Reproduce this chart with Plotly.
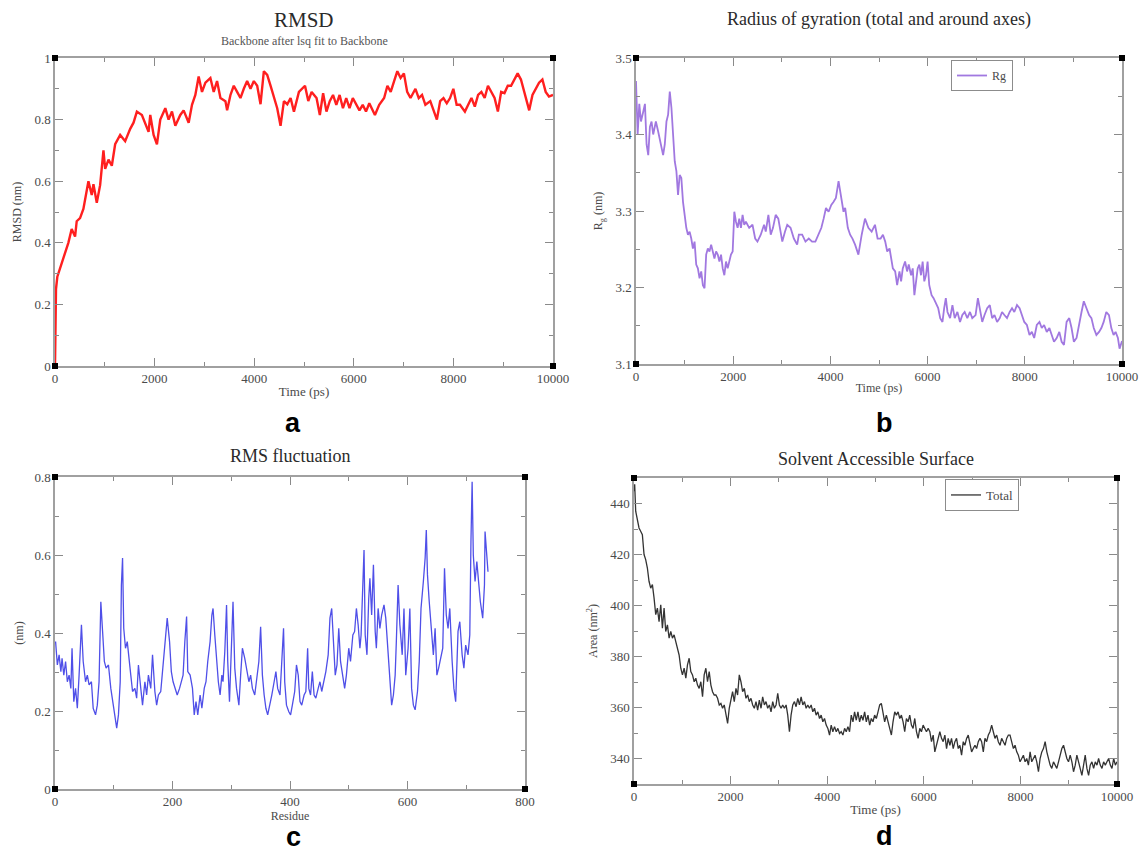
import plotly.graph_objects as go

# ---------------- data ----------------
# (a) RMSD, backbone after lsq fit to backbone
rmsd_time_ps = [0, 20, 47, 100, 168, 201, 268, 335, 403, 436, 503, 570, 637, 671, 738, 772, 839, 906,
                973, 1007, 1074, 1141, 1208, 1309, 1409, 1510, 1577, 1644, 1745, 1812, 1879, 1913, 1980,
                2047, 2114, 2215, 2281, 2349, 2416, 2516, 2583, 2684, 2751, 2818, 2885, 2952, 3020, 3120,
                3187, 3254, 3322, 3422, 3456, 3523, 3590, 3657, 3724, 3791, 3858, 3926, 3993, 4060, 4127,
                4194, 4261, 4328, 4395, 4462, 4529, 4597, 4664, 4731, 4798, 4898, 5020, 5086, 5153, 5252,
                5318, 5384, 5451, 5517, 5583, 5649, 5715, 5782, 5848, 5914, 5980, 6046, 6113, 6179, 6245,
                6311, 6377, 6424, 6510, 6609, 6675, 6741, 6808, 6874, 6940, 7006, 7072, 7139, 7238, 7304,
                7370, 7437, 7536, 7602, 7668, 7734, 7801, 7867, 7933, 7999, 8065, 8132, 8231, 8297, 8363,
                8430, 8496, 8562, 8628, 8694, 8761, 8827, 8893, 8959, 9025, 9092, 9158, 9224, 9290, 9356,
                9423, 9522, 9588, 9654, 9720, 9787, 9853, 9919, 10000]
rmsd_nm = [0.0, 0.25, 0.29, 0.315, 0.35, 0.37, 0.40, 0.445, 0.42, 0.47, 0.48, 0.51, 0.575, 0.60, 0.555,
           0.59, 0.53, 0.587, 0.70, 0.64, 0.67, 0.65, 0.72, 0.75, 0.73, 0.77, 0.79, 0.826, 0.815, 0.79,
           0.76, 0.815, 0.75, 0.72, 0.80, 0.837, 0.80, 0.826, 0.78, 0.815, 0.83, 0.79, 0.848, 0.88, 0.94,
           0.89, 0.92, 0.935, 0.89, 0.925, 0.87, 0.86, 0.83, 0.88, 0.91, 0.89, 0.87, 0.90, 0.925, 0.90,
           0.925, 0.91, 0.85, 0.957, 0.945, 0.91, 0.87, 0.837, 0.78, 0.86, 0.85, 0.87, 0.826, 0.89, 0.91,
           0.86, 0.89, 0.87, 0.815, 0.886, 0.826, 0.86, 0.88, 0.848, 0.88, 0.837, 0.87, 0.837, 0.87,
           0.848, 0.83, 0.848, 0.826, 0.853, 0.83, 0.815, 0.848, 0.87, 0.91, 0.89, 0.924, 0.957, 0.935,
           0.95, 0.89, 0.87, 0.90, 0.87, 0.88, 0.848, 0.86, 0.83, 0.80, 0.86, 0.87, 0.853, 0.87, 0.90,
           0.848, 0.848, 0.826, 0.848, 0.87, 0.842, 0.88, 0.89, 0.87, 0.91, 0.89, 0.87, 0.826, 0.89,
           0.886, 0.91, 0.91, 0.93, 0.95, 0.93, 0.89, 0.83, 0.88, 0.90, 0.92, 0.93, 0.89, 0.875, 0.88]

# (b) Radius of gyration
rg_time_ps = [0, 14, 34, 68, 102, 150, 184, 218, 252, 286, 320, 354, 409, 456, 504, 558, 592, 627, 661,
              695, 729, 763, 797, 831, 865, 899, 933, 967, 1001, 1035, 1069, 1103, 1137, 1171, 1205, 1239,
              1273, 1308, 1342, 1376, 1410, 1444, 1478, 1512, 1546, 1580, 1614, 1648, 1682, 1716, 1750,
              1784, 1818, 1852, 1886, 1920, 1954, 1989, 2023, 2057, 2091, 2125, 2159, 2193, 2227, 2261,
              2329, 2397, 2452, 2499, 2567, 2635, 2670, 2724, 2772, 2819, 2874, 2928, 2976, 3010, 3065,
              3112, 3180, 3248, 3316, 3351, 3419, 3487, 3555, 3623, 3691, 3759, 3814, 3861, 3909, 3963,
              4018, 4066, 4113, 4168, 4215, 4270, 4304, 4358, 4406, 4454, 4508, 4576, 4644, 4712, 4781,
              4849, 4917, 4971, 5033, 5081, 5128, 5169, 5217, 5251, 5285, 5333, 5373, 5421, 5455, 5489,
              5537, 5578, 5612, 5660, 5694, 5728, 5762, 5796, 5830, 5864, 5898, 5932, 5966, 6000, 6034,
              6082, 6123, 6170, 6218, 6259, 6306, 6341, 6375, 6409, 6463, 6511, 6558, 6613, 6667, 6715,
              6763, 6817, 6872, 6919, 6987, 7035, 7076, 7124, 7171, 7226, 7280, 7328, 7376, 7430, 7485,
              7532, 7580, 7634, 7689, 7737, 7784, 7839, 7893, 7941, 7989, 8043, 8097, 8145, 8193, 8247,
              8302, 8349, 8397, 8452, 8506, 8554, 8601, 8656, 8710, 8758, 8806, 8860, 8915, 8962, 9010,
              9065, 9119, 9167, 9214, 9269, 9323, 9371, 9419, 9473, 9528, 9575, 9623, 9677, 9732, 9780,
              9827, 9868, 9916, 9950, 10000]
rg_nm = [3.47, 3.45, 3.40, 3.44, 3.417, 3.43, 3.44, 3.387, 3.373, 3.41, 3.417, 3.40, 3.417, 3.404, 3.39,
         3.373, 3.387, 3.417, 3.426, 3.456, 3.435, 3.395, 3.365, 3.352, 3.321, 3.347, 3.343, 3.312, 3.295,
         3.278, 3.269, 3.273, 3.264, 3.251, 3.26, 3.23, 3.225, 3.212, 3.221, 3.203, 3.199, 3.243, 3.251,
         3.247, 3.256, 3.247, 3.238, 3.247, 3.243, 3.234, 3.243, 3.225, 3.216, 3.234, 3.225, 3.234, 3.243,
         3.247, 3.299, 3.286, 3.278, 3.29, 3.278, 3.295, 3.282, 3.286, 3.278, 3.282, 3.264, 3.26, 3.269,
         3.282, 3.273, 3.295, 3.269, 3.278, 3.295, 3.29, 3.273, 3.26, 3.273, 3.282, 3.278, 3.264, 3.256,
         3.269, 3.269, 3.26, 3.264, 3.26, 3.26, 3.269, 3.278, 3.29, 3.304, 3.299, 3.308, 3.312, 3.317,
         3.339, 3.321, 3.299, 3.304, 3.278, 3.269, 3.264, 3.256, 3.243, 3.269, 3.29, 3.278, 3.273, 3.282,
         3.264, 3.264, 3.269, 3.26, 3.247, 3.251, 3.238, 3.225, 3.221, 3.203, 3.221, 3.208, 3.225, 3.234,
         3.221, 3.23, 3.216, 3.225, 3.19, 3.208, 3.225, 3.23, 3.216, 3.234, 3.208, 3.216, 3.234, 3.203,
         3.19, 3.186, 3.179, 3.173, 3.16, 3.155, 3.173, 3.186, 3.168, 3.16, 3.177, 3.16, 3.168, 3.155,
         3.164, 3.168, 3.16, 3.168, 3.16, 3.164, 3.186, 3.173, 3.155, 3.164, 3.173, 3.177, 3.16, 3.164,
         3.155, 3.16, 3.168, 3.164, 3.16, 3.168, 3.173, 3.168, 3.177, 3.173, 3.164, 3.155, 3.151, 3.138,
         3.142, 3.134, 3.151, 3.155, 3.147, 3.151, 3.142, 3.147, 3.138, 3.129, 3.134, 3.142, 3.129, 3.125,
         3.155, 3.16, 3.147, 3.129, 3.134, 3.155, 3.168, 3.182, 3.173, 3.164, 3.16, 3.147, 3.138, 3.142,
         3.147, 3.155, 3.168, 3.164, 3.147, 3.138, 3.142, 3.134, 3.12, 3.13]

# (c) RMS fluctuation per residue
rmsf_residue = [1, 4, 7, 10, 12, 15, 18, 21, 24, 27, 29, 32, 35, 38, 41, 45, 48, 52, 55, 58, 62, 65, 69,
                72, 75, 78, 81, 84, 87, 91, 95, 98, 102, 105, 108, 111, 113, 115, 117, 120, 123, 126, 129,
                132, 136, 139, 142, 146, 149, 153, 156, 159, 163, 166, 170, 173, 176, 180, 183, 187, 191,
                195, 198, 201, 205, 208, 212, 215, 218, 221, 224, 226, 230, 234, 237, 240, 243, 247, 250,
                254, 257, 260, 264, 267, 269, 272, 275, 278, 281, 284, 286, 289, 292, 294, 297, 299, 301,
                303, 306, 309, 313, 316, 319, 323, 326, 330, 333, 336, 340, 343, 347, 350, 353, 356, 359,
                362, 366, 369, 373, 376, 379, 383, 386, 389, 391, 394, 398, 401, 404, 408, 411, 414, 417,
                420, 424, 427, 430, 432, 435, 438, 441, 444, 448, 451, 454, 458, 461, 465, 468, 471, 474,
                477, 480, 483, 486, 490, 493, 496, 500, 503, 507, 510, 513, 516, 519, 521, 524, 526, 528,
                531, 534, 536, 539, 542, 545, 547, 550, 553, 556, 560, 563, 567, 570, 573, 576, 579, 581,
                584, 587, 591, 594, 597, 601, 604, 607, 610, 613, 617, 620, 623, 627, 630, 632, 634, 637,
                640, 644, 647, 650, 653, 656, 660, 663, 666, 669, 672, 676, 679, 682, 686, 689, 693, 696,
                699, 703, 706, 708, 710, 712, 715, 718, 721, 724, 728, 731, 732, 735, 737]
rmsf_nm = [0.378, 0.318, 0.344, 0.301, 0.335, 0.292, 0.327, 0.275, 0.292, 0.258, 0.361, 0.224, 0.258,
           0.207, 0.292, 0.421, 0.327, 0.275, 0.292, 0.267, 0.275, 0.207, 0.190, 0.215, 0.275, 0.480,
           0.404, 0.327, 0.310, 0.318, 0.258, 0.224, 0.190, 0.156, 0.190, 0.275, 0.523, 0.592, 0.412,
           0.361, 0.378, 0.327, 0.292, 0.250, 0.258, 0.233, 0.318, 0.258, 0.215, 0.275, 0.241, 0.292,
           0.258, 0.344, 0.250, 0.215, 0.241, 0.250, 0.301, 0.352, 0.438, 0.378, 0.301, 0.275, 0.258,
           0.241, 0.258, 0.275, 0.292, 0.378, 0.442, 0.301, 0.292, 0.258, 0.190, 0.224, 0.190, 0.241,
           0.207, 0.258, 0.275, 0.327, 0.378, 0.446, 0.463, 0.395, 0.327, 0.275, 0.241, 0.292, 0.275,
           0.352, 0.472, 0.327, 0.224, 0.344, 0.395, 0.480, 0.310, 0.258, 0.215, 0.292, 0.361, 0.335,
           0.310, 0.275, 0.292, 0.258, 0.241, 0.275, 0.327, 0.416, 0.292, 0.241, 0.207, 0.190, 0.215,
           0.241, 0.275, 0.301, 0.258, 0.241, 0.327, 0.412, 0.275, 0.215, 0.198, 0.190, 0.215, 0.250,
           0.318, 0.292, 0.224, 0.215, 0.241, 0.250, 0.361, 0.258, 0.241, 0.301, 0.241, 0.233, 0.258,
           0.275, 0.250, 0.275, 0.301, 0.344, 0.438, 0.463, 0.361, 0.292, 0.318, 0.412, 0.327, 0.292,
           0.258, 0.292, 0.361, 0.327, 0.395, 0.404, 0.463, 0.421, 0.361, 0.395, 0.515, 0.613, 0.395,
           0.344, 0.489, 0.540, 0.446, 0.575, 0.404, 0.361, 0.463, 0.412, 0.446, 0.472, 0.438, 0.344,
           0.275, 0.215, 0.241, 0.292, 0.378, 0.523, 0.421, 0.344, 0.463, 0.292, 0.361, 0.463, 0.258,
           0.215, 0.203, 0.250, 0.327, 0.463, 0.532, 0.592, 0.664, 0.549, 0.480, 0.429, 0.344, 0.412,
           0.292, 0.310, 0.335, 0.361, 0.566, 0.446, 0.412, 0.463, 0.327, 0.258, 0.224, 0.404, 0.429,
           0.344, 0.310, 0.369, 0.344, 0.395, 0.634, 0.788, 0.600, 0.532, 0.583, 0.532, 0.480, 0.438,
           0.523, 0.660, 0.592, 0.557]

# (d) Solvent accessible surface, total
sas_time_ps = [0, 14, 35, 69, 104, 138, 173, 208, 242, 277, 311, 346, 381, 415, 450, 484, 519, 554, 588,
               623, 657, 692, 727, 761, 796, 830, 865, 900, 934, 969, 1003, 1038, 1073, 1107, 1142, 1176,
               1211, 1246, 1280, 1315, 1349, 1384, 1419, 1453, 1488, 1522, 1557, 1592, 1626, 1661, 1695,
               1730, 1765, 1799, 1834, 1868, 1903, 1938, 1972, 2007, 2041, 2076, 2111, 2145, 2180, 2214,
               2249, 2284, 2318, 2353, 2387, 2422, 2457, 2491, 2526, 2560, 2595, 2630, 2664, 2699, 2733,
               2768, 2803, 2837, 2872, 2906, 2941, 2976, 3010, 3045, 3079, 3114, 3149, 3183, 3218, 3252,
               3287, 3322, 3356, 3391, 3425, 3460, 3495, 3529, 3564, 3598, 3633, 3668, 3702, 3737, 3771,
               3806, 3841, 3875, 3910, 3944, 3979, 4014, 4048, 4083, 4117, 4152, 4187, 4221, 4256, 4290,
               4325, 4360, 4394, 4429, 4463, 4498, 4533, 4567, 4602, 4636, 4671, 4706, 4740, 4775, 4810,
               4844, 4879, 4913, 4948, 4982, 5017, 5052, 5087, 5121, 5156, 5190, 5225, 5259, 5294, 5329,
               5363, 5398, 5432, 5467, 5502, 5536, 5571, 5605, 5640, 5675, 5709, 5744, 5778, 5813, 5848,
               5882, 5917, 5951, 5986, 6021, 6055, 6090, 6125, 6159, 6194, 6228, 6263, 6298, 6332, 6367,
               6401, 6436, 6471, 6505, 6540, 6574, 6609, 6644, 6678, 6713, 6747, 6782, 6817, 6851, 6886,
               6920, 6955, 6990, 7024, 7059, 7093, 7128, 7163, 7197, 7232, 7266, 7301, 7336, 7370, 7405,
               7439, 7474, 7509, 7543, 7578, 7612, 7647, 7682, 7716, 7751, 7785, 7820, 7855, 7889, 7924,
               7958, 7993, 8028, 8062, 8097, 8131, 8166, 8201, 8235, 8270, 8304, 8339, 8374, 8408, 8443,
               8477, 8512, 8547, 8581, 8616, 8650, 8685, 8720, 8754, 8789, 8823, 8858, 8893, 8927, 8962,
               8996, 9031, 9066, 9100, 9135, 9169, 9204, 9239, 9273, 9308, 9342, 9377, 9412, 9446, 9481,
               9516, 9550, 9585, 9619, 9654, 9689, 9723, 9758, 9792, 9827, 9862, 9896, 9931, 9966, 10000]
sas_area_nm2 = [444.8, 447.5, 437.0, 433.1, 430.4, 429.1, 427.8, 420.0, 418.0, 414.7, 409.5, 406.8,
                408.2, 403.0, 396.4, 399.0, 393.7, 400.3, 391.1, 399.0, 389.8, 392.4, 387.2, 389.8, 387.2,
                388.5, 385.9, 383.3, 380.6, 375.4, 372.8, 375.4, 371.5, 376.7, 379.3, 374.1, 372.8, 370.1,
                371.5, 368.8, 367.5, 370.1, 364.2, 372.8, 375.4, 370.1, 374.1, 368.8, 366.2, 364.9, 364.9,
                363.6, 361.0, 361.6, 359.7, 361.0, 357.0, 353.8, 359.7, 363.6, 366.2, 362.3, 367.5, 364.9,
                372.8, 370.1, 366.2, 367.5, 363.6, 364.9, 362.3, 363.6, 361.0, 359.7, 362.3, 359.0, 362.9,
                359.7, 364.2, 361.0, 362.3, 359.7, 361.0, 358.3, 362.3, 359.7, 361.0, 365.6, 361.0, 359.7,
                361.0, 359.7, 361.0, 357.0, 350.5, 357.0, 361.0, 362.3, 360.3, 363.6, 361.0, 364.2, 361.0,
                362.3, 359.7, 361.0, 359.7, 361.0, 358.3, 359.7, 357.0, 358.3, 355.7, 357.0, 354.4, 355.7,
                353.1, 351.8, 349.2, 353.1, 350.5, 352.5, 350.5, 351.8, 349.8, 350.5, 349.2, 351.8, 350.5,
                352.5, 350.5, 357.0, 354.4, 358.3, 355.0, 358.3, 354.4, 357.0, 355.0, 358.3, 354.4, 357.0,
                353.1, 355.7, 354.4, 357.0, 355.7, 358.3, 361.0, 361.6, 357.0, 354.4, 357.0, 354.4, 351.8,
                349.2, 354.4, 358.3, 357.0, 358.3, 355.7, 357.0, 354.4, 350.5, 355.7, 354.4, 357.0, 353.1,
                351.8, 355.7, 350.5, 347.9, 351.8, 350.5, 353.1, 351.8, 350.5, 351.8, 350.5, 346.6, 349.2,
                342.6, 345.2, 347.9, 350.5, 347.9, 346.6, 349.2, 343.9, 347.9, 345.2, 347.9, 343.9, 346.6,
                347.9, 343.9, 345.2, 341.3, 346.6, 345.2, 347.9, 349.2, 345.2, 342.6, 343.9, 345.2, 343.9,
                346.6, 347.9, 346.6, 342.6, 347.9, 346.6, 349.2, 350.5, 353.1, 350.5, 347.9, 349.2, 346.6,
                345.2, 347.9, 346.6, 345.2, 347.9, 349.2, 349.2, 346.6, 343.9, 345.2, 342.6, 341.3, 338.7,
                340.0, 341.3, 338.7, 340.0, 337.4, 342.6, 338.7, 340.0, 341.3, 338.7, 334.8, 340.0, 342.6,
                343.9, 346.6, 342.6, 340.0, 337.4, 336.1, 338.7, 337.4, 336.1, 338.7, 341.3, 343.9, 345.2,
                342.6, 340.0, 338.7, 341.3, 338.7, 334.8, 337.4, 341.3, 338.7, 336.1, 333.4, 337.4, 341.3,
                336.1, 333.4, 337.4, 338.7, 336.1, 338.7, 337.4, 340.0, 337.4, 336.1, 338.7, 337.4, 338.7,
                340.0, 337.4, 336.1, 340.0, 337.4, 338.7]

# ---------------- figure ----------------
SERIF = "Liberation Serif"
SANS = "Liberation Sans"
W, H = 1146, 852

def px_x(p):
    return p / W

def px_y(p):
    return 1 - p / H

fig = go.Figure()
fig.add_trace(go.Scatter(x=rmsd_time_ps, y=rmsd_nm, mode="lines", xaxis="x", yaxis="y",
                         line=dict(color="#ff1f1f", width=2.4), showlegend=False))
fig.add_trace(go.Scatter(x=rg_time_ps, y=rg_nm, mode="lines", xaxis="x2", yaxis="y2", name="Rg",
                         line=dict(color="#a178e0", width=1.8), legend="legend"))
fig.add_trace(go.Scatter(x=rmsf_residue, y=rmsf_nm, mode="lines", xaxis="x3", yaxis="y3",
                         line=dict(color="#4f4fe8", width=1.3), showlegend=False))
fig.add_trace(go.Scatter(x=sas_time_ps, y=sas_area_nm2, mode="lines", xaxis="x4", yaxis="y4",
                         name="Total", line=dict(color="#333333", width=1.3), legend="legend2"))

FRAME = "#a0a0a0"
TICKC = "#8a8a8a"
TXT = "#4a4a4a"


def axis(domain, rng, dtick, minor_dtick, anchor, title, standoff, fmt=None, tsize=13):
    d = dict(domain=domain, range=rng, dtick=dtick, anchor=anchor, automargin=False,
             showline=True, linecolor=FRAME, linewidth=1.5, mirror="ticks",
             ticks="inside", ticklen=8, tickwidth=1, tickcolor=TICKC,
             showgrid=False, zeroline=False,
             tickfont=dict(family=SERIF, size=13, color=TXT),
             minor=dict(dtick=minor_dtick, ticks="inside", ticklen=4, tickcolor=TICKC, showgrid=False),
             title=dict(text=title, standoff=standoff, font=dict(family=SERIF, size=tsize, color=TXT)))
    if fmt:
        d["tickformat"] = fmt
    return d

# panel pixel boxes (left, right, top, bottom)
A = (55, 553, 58, 366)
B = (636, 1122, 58, 364)
C = (55, 525, 477, 789)
D = (634, 1117, 478, 784)

def dom(box):
    l, r, t, b = box
    return [px_x(l), px_x(r)], [px_y(b), px_y(t)]

ax_, ay_ = dom(A)
bx_, by_ = dom(B)
cx_, cy_ = dom(C)
dx_, dy_ = dom(D)

fig.update_layout(
    template="none",
    width=W, height=H, margin=dict(l=0, r=0, t=0, b=0, autoexpand=False),
    paper_bgcolor="white", plot_bgcolor="white",
    xaxis=axis(ax_, [0, 10000], 2000, 1000, "y", "Time (ps)", 2, "d"),
    yaxis=axis(ay_, [0, 1], 0.2, 0.1, "x", "RMSD (nm)", 10, tsize=12),
    xaxis2=axis(bx_, [0, 10000], 2000, 1000, "y2", "Time (ps)", 0, "d", tsize=12),
    yaxis2=axis(by_, [3.1, 3.5], 0.1, 0.05, "x2", "R<sub>g</sub> (nm)", 10, ".1f", tsize=12),
    xaxis3=axis(cx_, [0, 800], 200, 100, "y3", "Residue", 0, "d", tsize=12),
    yaxis3=axis(cy_, [0, 0.8], 0.2, 0.1, "x3", "(nm)", 8, tsize=12),
    xaxis4=axis(dx_, [0, 10000], 2000, 1000, "y4", "Time (ps)", 2, "d"),
    yaxis4=axis(dy_, [330, 450], 20, 10, "x4", "Area (nm<sup>2</sup>)", 10, "d", tsize=12),
    legend=dict(x=px_x(951), y=px_y(60), xanchor="left", yanchor="top",
                bordercolor="#8c8c8c", borderwidth=1, bgcolor="white", itemwidth=30,
                font=dict(family=SERIF, size=12, color=TXT)),
    legend2=dict(x=px_x(945), y=px_y(479), xanchor="left", yanchor="top",
                 bordercolor="#8c8c8c", borderwidth=1, bgcolor="white", itemwidth=30,
                 font=dict(family=SERIF, size=13, color=TXT)),
)

# titles
annots = [
    dict(text="RMSD", x=px_x((A[0] + A[1]) / 2), y=px_y(20), size=21, color="#2a2a2a"),
    dict(text="Backbone after lsq fit to Backbone", x=px_x((A[0] + A[1]) / 2), y=px_y(41), size=12, color="#555555"),
    dict(text="Radius of gyration (total and around axes)", x=px_x((B[0] + B[1]) / 2), y=px_y(19), size=18, color="#2a2a2a"),
    dict(text="RMS fluctuation", x=px_x((C[0] + C[1]) / 2), y=px_y(456), size=18, color="#2a2a2a"),
    dict(text="Solvent Accessible Surface", x=px_x((D[0] + D[1]) / 2), y=px_y(459), size=18, color="#2a2a2a"),
]
for a in annots:
    fig.add_annotation(text=a["text"], x=a["x"], y=a["y"], xref="paper", yref="paper",
                       showarrow=False, xanchor="center", yanchor="middle",
                       font=dict(family=SERIF, size=a["size"], color=a["color"]))

# panel letters
for letter, (lx, ly) in {"a": (293, 423), "b": (884, 423), "c": (293, 837), "d": (884, 836)}.items():
    fig.add_annotation(text="<b>%s</b>" % letter, x=px_x(lx), y=px_y(ly), xref="paper", yref="paper",
                       showarrow=False, xanchor="center", yanchor="middle",
                       font=dict(family=SANS, size=27, color="black"))

# small black corner handles on each graph frame
for sfx in ["", "2", "3", "4"]:
    for cx in (0, 1):
        for cy in (0, 1):
            fig.add_shape(type="rect", xref="x%s domain" % sfx, yref="y%s domain" % sfx,
                          xsizemode="pixel", ysizemode="pixel", xanchor=cx, yanchor=cy,
                          x0=-3, x1=3, y0=-3, y1=3, fillcolor="black", line=dict(width=0))

# the page's default 8px body margin would shift the figure; remove it
fig.write_html("out.html", config={"responsive": False, "displayModeBar": False},
               post_script="document.body.style.margin='0px';document.body.style.overflow='hidden';")
